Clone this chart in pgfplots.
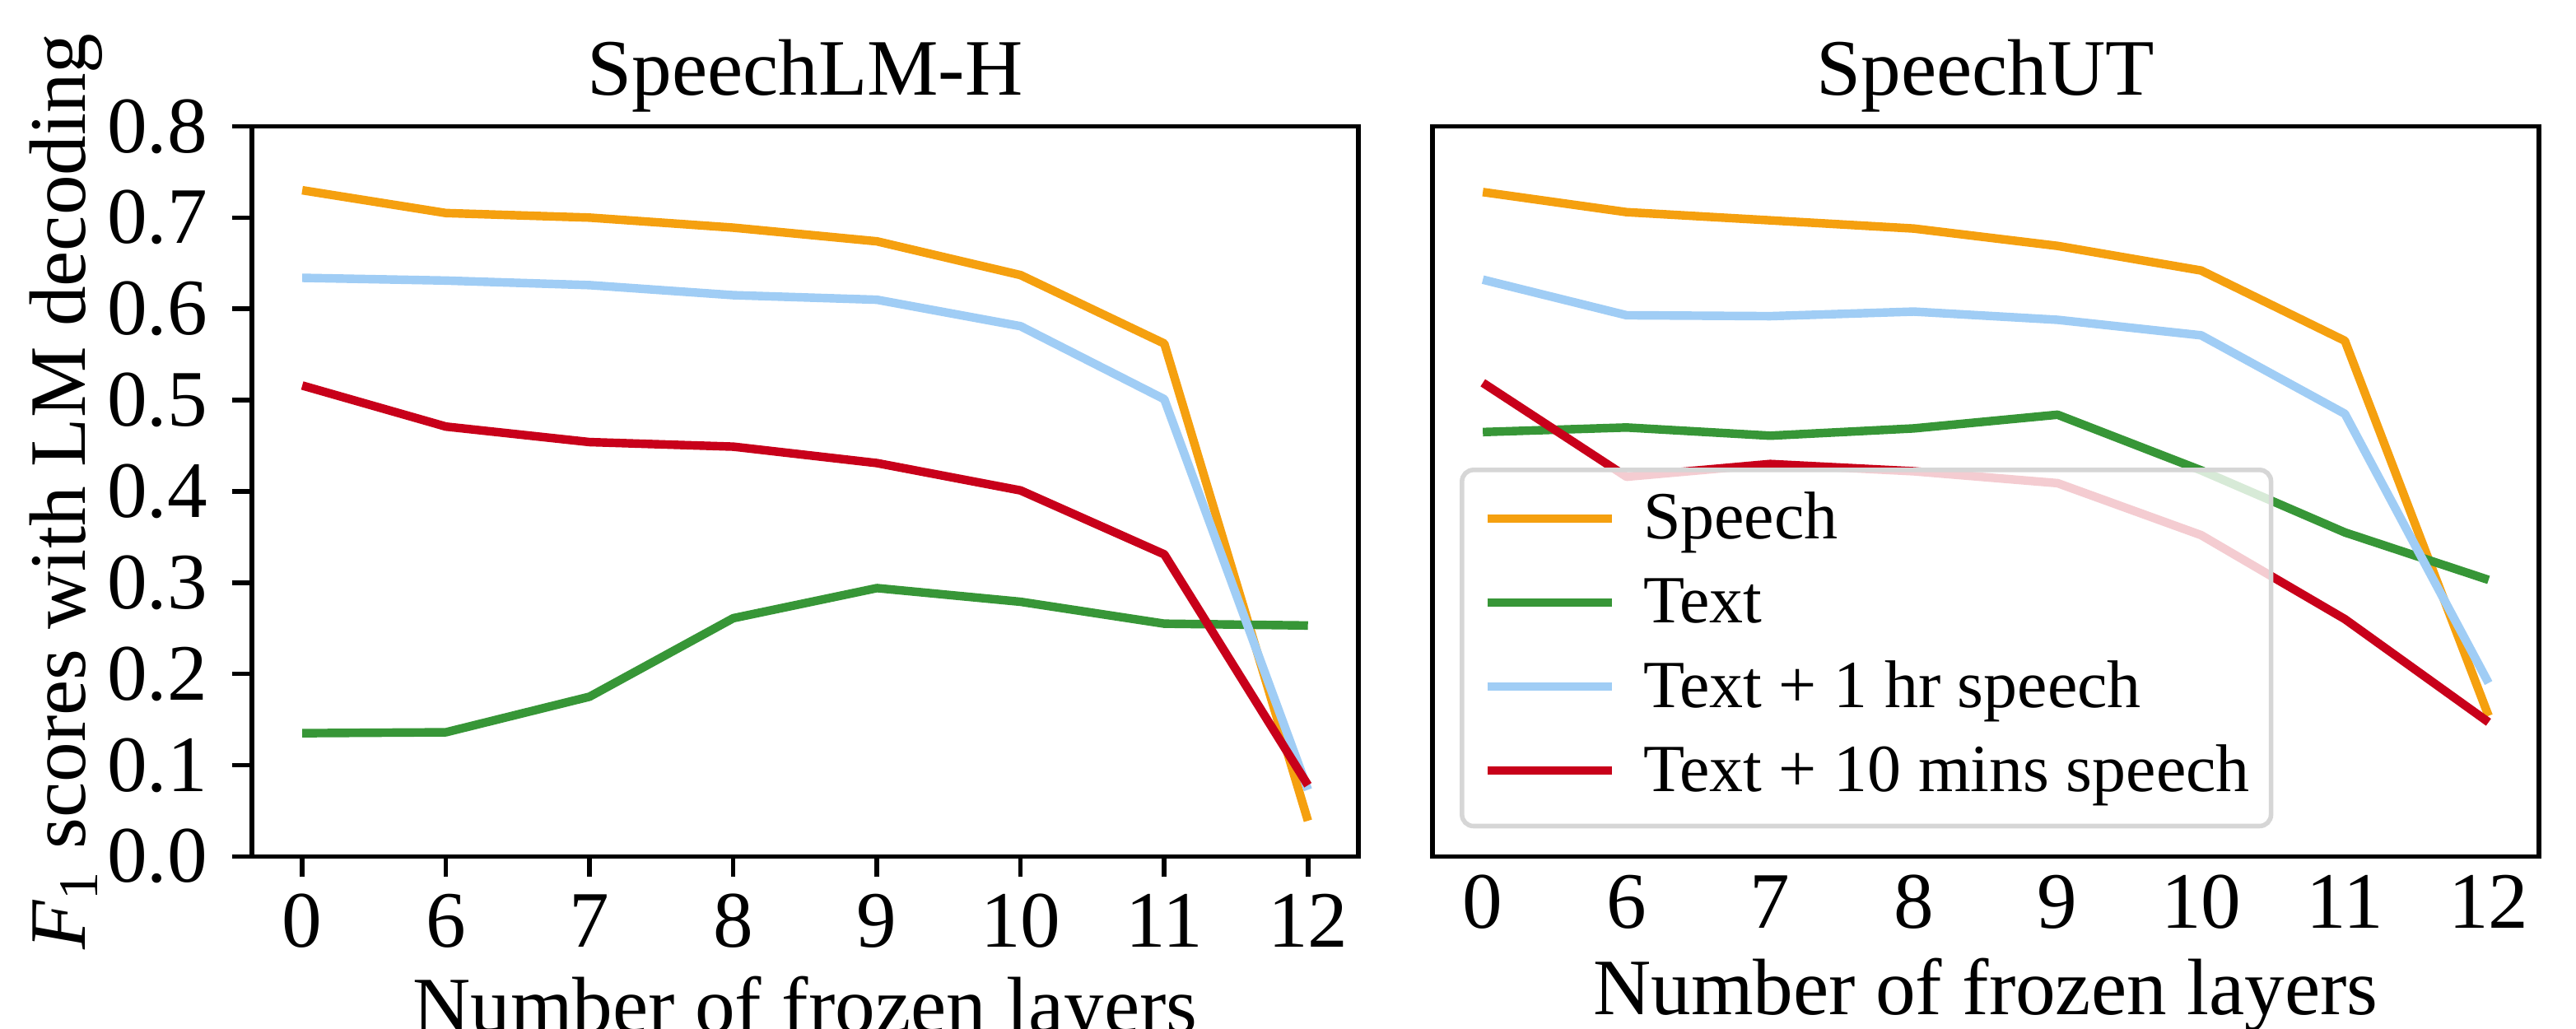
\documentclass[border=0pt]{standalone}
\usepackage{fontspec}
\setmainfont{Liberation Serif}
\usepackage{pgfplots}
\usepackage{pgfplotstable}
\pgfplotsset{compat=1.18}

\definecolor{cSpeech}{RGB}{245,160,15}
\definecolor{cText}{RGB}{55,150,55}
\definecolor{cHour}{RGB}{160,205,245}
\definecolor{cMins}{RGB}{200,0,26}

% x = position of the category (frozen layers 0,6,7,...,12)
\pgfplotstableread{
x speech text hour mins
0 0.730 0.135 0.634 0.516
1 0.705 0.136 0.631 0.471
2 0.700 0.175 0.626 0.454
3 0.689 0.261 0.615 0.449
4 0.674 0.294 0.610 0.431
5 0.637 0.279 0.581 0.401
6 0.562 0.255 0.501 0.331
7 0.039 0.253 0.073 0.078
}\lmh

\pgfplotstableread{
x speech text hour mins
0 0.728 0.465 0.632 0.519
1 0.706 0.470 0.593 0.416
2 0.697 0.461 0.592 0.430
3 0.688 0.469 0.597 0.422
4 0.669 0.484 0.588 0.409
5 0.642 0.423 0.571 0.352
6 0.565 0.355 0.485 0.260
7 0.154 0.303 0.190 0.147
}\sut

\pgfplotsset{
  panel/.style={
    scale only axis, width=193.5pt, height=127.7pt,
    xmin=-0.35, xmax=7.35, ymin=0, ymax=0.8,
    xtick={0,...,7}, xticklabels={0,6,7,8,9,10,11,12},
    axis line style={line width=0.8pt},
    every tick/.style={black, line width=0.8pt},
    major tick length=3.5pt, tick align=outside, tick pos=left,
    tick label style={font=\fontsize{14}{16}\selectfont},
    label style={font=\fontsize{14}{16}\selectfont},
    every axis title shift=0pt,
    title style={font=\fontsize{14}{16}\selectfont, at={(axis description cs:0.5,1)}, anchor=base, yshift=5.5pt},
    xlabel={Number of frozen layers},
    every axis plot/.append style={line width=1.5pt, line join=round, mark=none},
  },
}

\begin{document}
\begin{tikzpicture}
\begin{axis}[panel,
    title={SpeechLM-H},
    ytick={0,0.1,...,0.8},
    yticklabels={0.0,0.1,0.2,0.3,0.4,0.5,0.6,0.7,0.8},
    yticklabel style={anchor=east, inner sep=0pt, xshift=-4.1pt},
    xticklabel style={anchor=base, inner sep=0pt, yshift=-12.3pt},
    xlabel style={at={(axis description cs:0.5,0)}, anchor=base, yshift=-30.8pt},
    ylabel={\textit{F}\textsubscript{1} scores with LM decoding},
    ylabel style={at={(axis description cs:-0.1506,0.5)}, anchor=base},
  ]
  \addplot[cSpeech] table[x=x, y=speech] {\lmh};
  \addplot[cText]   table[x=x, y=text]   {\lmh};
  \addplot[cHour]   table[x=x, y=hour]   {\lmh};
  \addplot[cMins]   table[x=x, y=mins]   {\lmh};
\end{axis}

\begin{axis}[panel,
    at={(206.5pt,0pt)}, anchor=south west,
    title={SpeechUT},
    ytick=\empty,
    major tick length=0pt,
    xticklabel style={anchor=base, inner sep=0pt, yshift=-12.5pt},
    xlabel style={at={(axis description cs:0.5,0)}, anchor=base, yshift=-27.65pt},
    legend image code/.code={\draw[#1, line width=1.5pt] (0pt,3.6pt) -- (21.8pt,3.6pt);},
    legend cell align=left,
    legend style={
      at={(axis description cs:0,0)}, anchor=south west, xshift=4.75pt, yshift=4.9pt,
      draw=black!16, line width=0.8pt, rounded corners=2pt,
      fill=white, fill opacity=0.8, text opacity=1,
      font=\fontsize{11.8}{13}\selectfont,
      inner xsep=3.7pt, inner ysep=3.6pt,
      nodes={inner sep=0pt, text height=8.5pt, text depth=2.5pt, anchor=base west},
      row sep=3.7pt, column sep=4.7pt,
    },
  ]
  \addplot[cSpeech] table[x=x, y=speech] {\sut};
  \addlegendentry{Speech}
  \addplot[cText]   table[x=x, y=text]   {\sut};
  \addlegendentry{Text}
  \addplot[cHour]   table[x=x, y=hour]   {\sut};
  \addlegendentry{Text + 1 hr speech}
  \addplot[cMins]   table[x=x, y=mins]   {\sut};
  \addlegendentry{Text + 10 mins speech}
\end{axis}

\pgfresetboundingbox
\useasboundingbox (-44.07pt,-30.1pt) rectangle (406.5pt,149.8pt);
\end{tikzpicture}
\end{document}
